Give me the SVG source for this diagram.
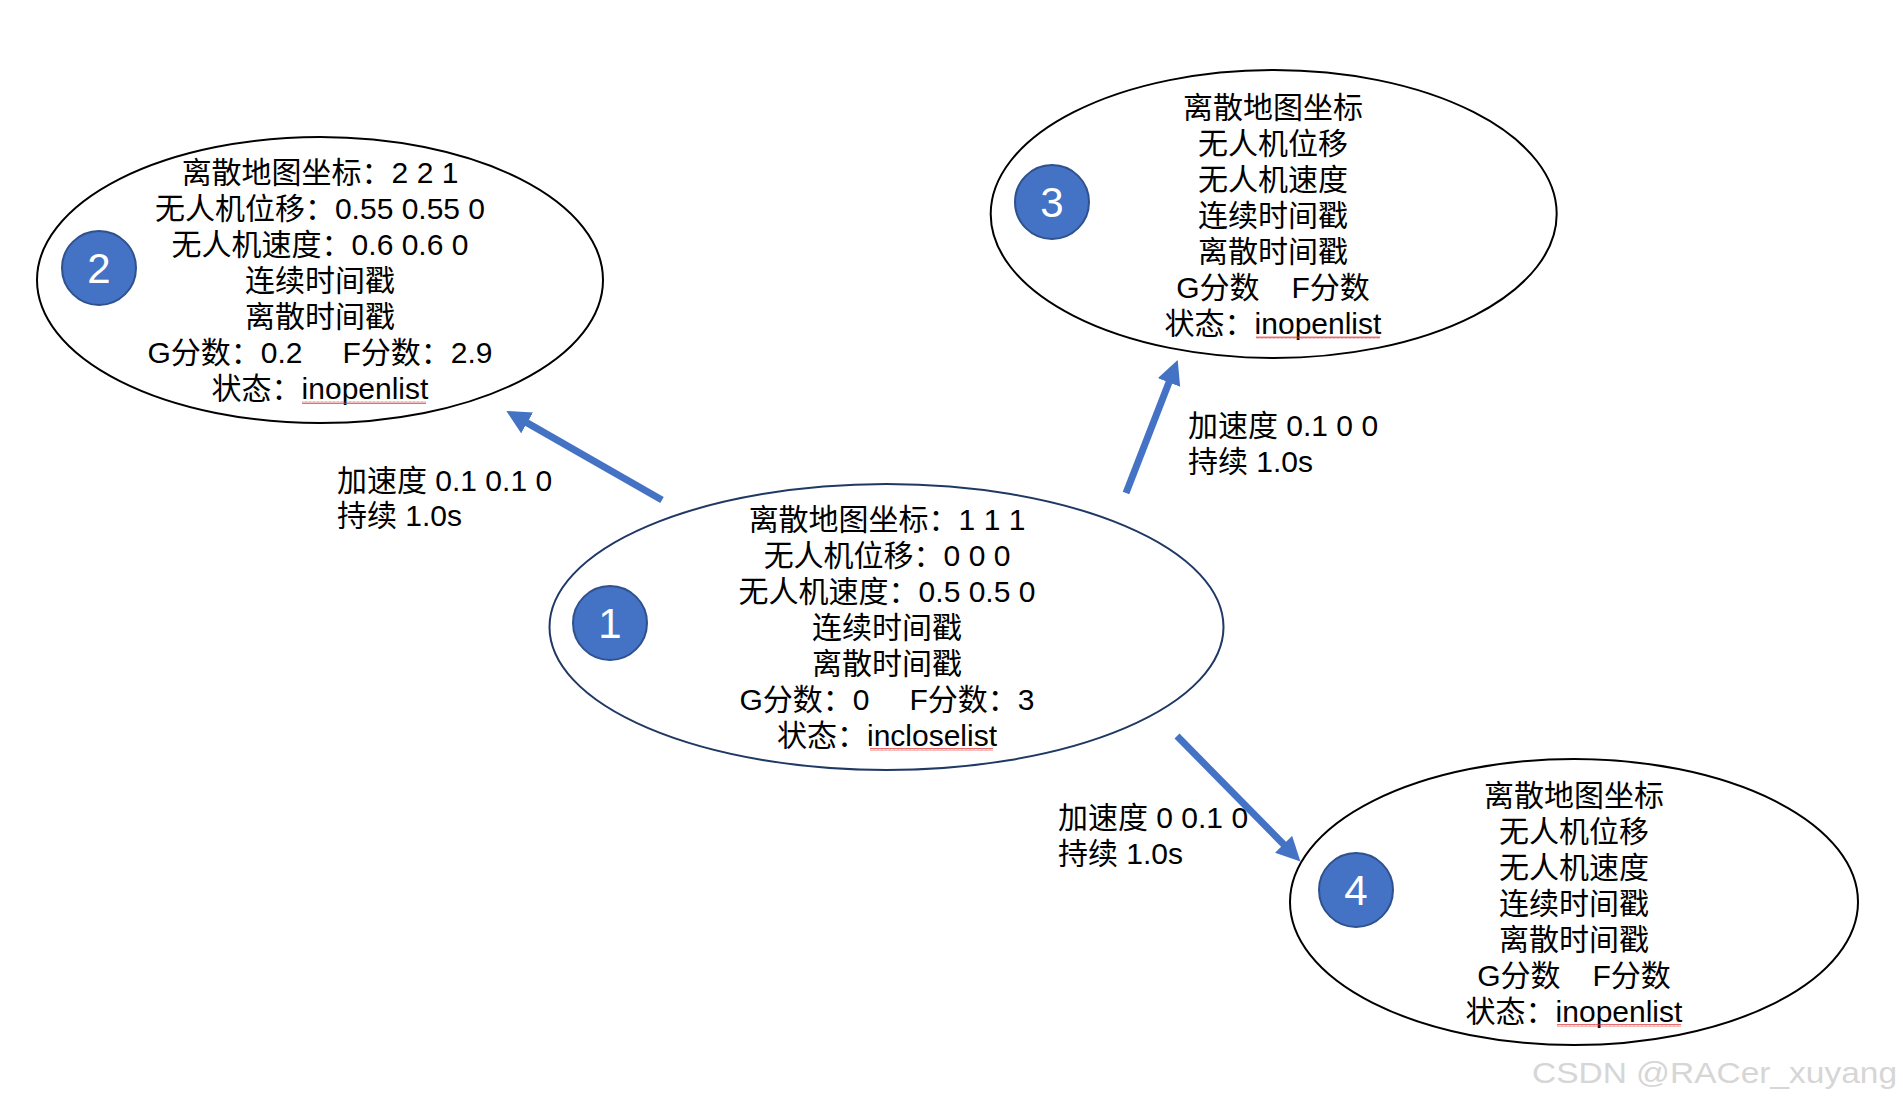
<svg xmlns="http://www.w3.org/2000/svg" width="1903" height="1106" viewBox="0 0 1903 1106">
<style>
.t{font-family:"Liberation Sans","Noto Sans CJK SC",sans-serif;font-size:30px;fill:#000;}
.c{text-anchor:middle;}
.num{font-family:"Liberation Sans",sans-serif;font-size:42px;fill:#fff;text-anchor:middle;}
.el{fill:none;stroke:#000;stroke-width:2;}
.el1{fill:none;stroke:#1F3864;stroke-width:2;}
.dot{fill:#4472C4;stroke:#2F528F;stroke-width:2;}
.arr{stroke:#4472C4;stroke-width:7;fill:none;}
.sq{fill:url(#squiggle);}
</style>
<defs>
<marker id="ah" markerUnits="userSpaceOnUse" markerWidth="26" markerHeight="26" refX="2" refY="12" orient="auto">
<path d="M0,0 L24,12 L0,24 z" fill="#4472C4"/>
</marker>
<pattern id="squiggle" patternUnits="userSpaceOnUse" width="4" height="3">
<path d="M0,2.5 L1,0.5 L2,2.5 L3,0.5 L4,2.5" stroke="#E03030" stroke-width="0.7" fill="none"/>
</pattern>
</defs>
<rect width="1903" height="1106" fill="#fff"/>

<g id="connectors">
<line class="arr" x1="662" y1="500" x2="525.4" y2="421.9" marker-end="url(#ah)"/>
<line class="arr" x1="1126" y1="493" x2="1169.7" y2="380.6" marker-end="url(#ah)"/>
<line class="arr" x1="1177" y1="736" x2="1285" y2="845.7" marker-end="url(#ah)"/>
<text class="t" x="337" y="491">加速度 0.1 0.1 0</text>
<text class="t" x="337" y="526">持续 1.0s</text>
<text class="t" x="1188" y="436">加速度 0.1 0 0</text>
<text class="t" x="1188" y="472">持续 1.0s</text>
<text class="t" x="1058" y="828">加速度 0 0.1 0</text>
<text class="t" x="1058" y="864">持续 1.0s</text>
</g>

<g id="node1">
<ellipse class="el1" cx="886.5" cy="627" rx="337" ry="143"/>
<circle class="dot" cx="610" cy="623" r="37"/>
<text class="num" x="610" y="638">1</text>
<text class="t c" x="887" y="530">离散地图坐标：1 1 1</text>
<text class="t c" x="887" y="566">无人机位移：0 0 0</text>
<text class="t c" x="887" y="602">无人机速度：0.5 0.5 0</text>
<text class="t c" x="887" y="638">连续时间戳</text>
<text class="t c" x="887" y="674">离散时间戳</text>
<text class="t c" x="887" y="710">G分数：0<tspan dx="40">F分数：3</tspan></text>
<text class="t c" x="887" y="746">状态：incloselist</text>
<rect class="sq" x="870" y="748" width="123" height="3"/>
</g>

<g id="node2">
<ellipse class="el" cx="320" cy="280" rx="283" ry="143"/>
<circle class="dot" cx="99" cy="268" r="37"/>
<text class="num" x="99" y="283">2</text>
<text class="t c" x="320" y="183">离散地图坐标：2 2 1</text>
<text class="t c" x="320" y="219">无人机位移：0.55 0.55 0</text>
<text class="t c" x="320" y="255">无人机速度：0.6 0.6 0</text>
<text class="t c" x="320" y="291">连续时间戳</text>
<text class="t c" x="320" y="327">离散时间戳</text>
<text class="t c" x="320" y="363">G分数：0.2<tspan dx="40">F分数：2.9</tspan></text>
<text class="t c" x="320" y="399">状态：inopenlist</text>
<rect class="sq" x="302" y="401" width="124" height="3"/>
</g>

<g id="node3">
<ellipse class="el" cx="1273.7" cy="214" rx="283" ry="144"/>
<circle class="dot" cx="1052" cy="202" r="37"/>
<text class="num" x="1052" y="217">3</text>
<text class="t c" x="1273" y="118">离散地图坐标</text>
<text class="t c" x="1273" y="154">无人机位移</text>
<text class="t c" x="1273" y="190">无人机速度</text>
<text class="t c" x="1273" y="226">连续时间戳</text>
<text class="t c" x="1273" y="262">离散时间戳</text>
<text class="t c" x="1273" y="298">G分数<tspan dx="32">F分数</tspan></text>
<text class="t c" x="1273" y="334">状态：inopenlist</text>
<rect class="sq" x="1256" y="336" width="124" height="3"/>
</g>

<g id="node4">
<ellipse class="el" cx="1574" cy="902" rx="284" ry="143"/>
<circle class="dot" cx="1356" cy="890" r="37"/>
<text class="num" x="1356" y="905">4</text>
<text class="t c" x="1574" y="806">离散地图坐标</text>
<text class="t c" x="1574" y="842">无人机位移</text>
<text class="t c" x="1574" y="878">无人机速度</text>
<text class="t c" x="1574" y="914">连续时间戳</text>
<text class="t c" x="1574" y="950">离散时间戳</text>
<text class="t c" x="1574" y="986">G分数<tspan dx="32">F分数</tspan></text>
<text class="t c" x="1574" y="1022">状态：inopenlist</text>
<rect class="sq" x="1557" y="1024" width="124" height="3"/>
</g>

<text x="1897" y="1083" font-family="Liberation Sans, Arial, sans-serif" font-size="30" fill="#d6d6d6" text-anchor="end" textLength="365" lengthAdjust="spacingAndGlyphs">CSDN @RACer_xuyang</text>
</svg>
